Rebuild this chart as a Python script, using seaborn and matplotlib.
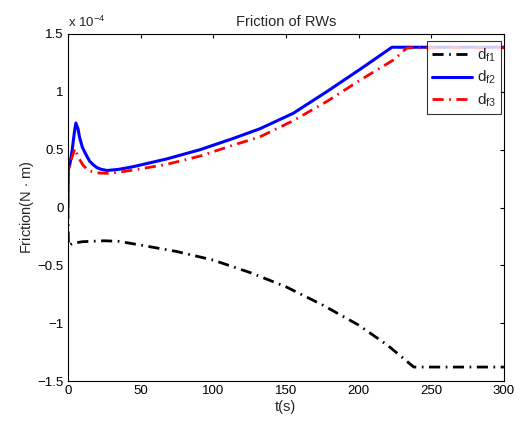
import matplotlib
matplotlib.use("Agg")
import matplotlib.pyplot as plt
import seaborn as sns
import pandas as pd

# values in units of 1e-4 N*m
t_f1 = [0, 0.4, 3, 10, 25, 35, 50, 75, 100, 125, 150, 175, 200, 220, 238, 300]
d_f1 = [0, -0.33, -0.31, -0.295, -0.287, -0.292, -0.324, -0.38, -0.454, -0.56,
        -0.684, -0.84, -1.015, -1.19, -1.378, -1.378]

t_f2 = [0, 0.3, 1.5, 3, 4.5, 5.5, 7, 8, 10, 12.8, 15, 17.4, 20, 23, 27, 35, 45,
        68, 91, 114, 132, 155, 178, 201, 223, 300]
d_f2 = [0, 0.33, 0.38, 0.50, 0.65, 0.73, 0.68, 0.61, 0.52, 0.45, 0.40, 0.37,
        0.345, 0.33, 0.32, 0.33, 0.353, 0.42, 0.50, 0.598, 0.68, 0.814, 1.0,
        1.194, 1.385, 1.385]

t_f3 = [0, 0.3, 2, 4.8, 7, 10.2, 14, 19.7, 26.6, 35, 45, 68, 91, 114, 132, 155,
        178, 201, 224, 233, 235, 300]
d_f3 = [0, 0.28, 0.40, 0.51, 0.44, 0.37, 0.32, 0.30, 0.295, 0.305, 0.324,
        0.373, 0.445, 0.54, 0.61, 0.75, 0.915, 1.10, 1.275, 1.376, 1.38, 1.38]

labels = [r"d$_{\mathrm{f1}}$", r"d$_{\mathrm{f2}}$", r"d$_{\mathrm{f3}}$"]
xticks = [0, 50, 100, 150, 200, 250, 300]
yticks = [-1.5, -1, -0.5, 0, 0.5, 1, 1.5]
ytick_labels = ["\u22121.5", "\u22121", "\u22120.5", "0", "0.5", "1", "1.5"]

sns.set_style("white")
plt.rcParams['font.family'] = ['Liberation Sans', 'DejaVu Sans']
plt.rcParams['mathtext.fontset'] = 'custom'
plt.rcParams['mathtext.rm'] = 'Liberation Sans'
plt.rcParams['mathtext.it'] = 'Liberation Sans'

fig = plt.figure(figsize=(5.26, 4.24), dpi=100)
ax = fig.add_axes([0.129, 0.101, 0.829, 0.819])

df1 = pd.DataFrame({"t": t_f1, "v": d_f1})
df2 = pd.DataFrame({"t": t_f2, "v": d_f2})
df3 = pd.DataFrame({"t": t_f3, "v": d_f3})

sns.lineplot(data=df1, x="t", y="v", ax=ax, color="black", lw=2,
             linestyle=(0, (4, 2, 0.6, 2)), label=labels[0], sort=False)
sns.lineplot(data=df2, x="t", y="v", ax=ax, color="#0000ff", lw=2.2,
             label=labels[1], sort=False)
sns.lineplot(data=df3, x="t", y="v", ax=ax, color="#ff0000", lw=2,
             linestyle=(0, (4, 2, 0.6, 2)), label=labels[2], sort=False)

ax.set_xlim(0, 300)
ax.set_ylim(-1.5, 1.5)
ax.set_xticks(xticks)
ax.set_yticks(yticks)
ax.set_yticklabels(ytick_labels)
ax.tick_params(direction="in", length=3, width=0.8, labelsize=9.5,
               top=True, right=True, colors="black", pad=3)
for s in ax.spines.values():
    s.set_color("black")
    s.set_linewidth(0.8)

ax.set_xlabel("t(s)", fontsize=10.5, labelpad=2)
ax.set_ylabel(r"Friction(N $\cdot$ m)", fontsize=10.5, labelpad=1)
ax.set_title("Friction of RWs", fontsize=10.5, pad=6)
ax.text(0.0, 1.012, r"x 10$^{-4}$", transform=ax.transAxes, fontsize=9.5,
        ha="left", va="bottom")

leg = ax.legend(loc="upper right", bbox_to_anchor=(0.993, 0.98),
                borderaxespad=0, fontsize=11, frameon=True, fancybox=False,
                edgecolor="black", handlelength=2.6, labelspacing=0.35,
                handletextpad=0.3, borderpad=0.35)
leg.get_frame().set_linewidth(0.8)

fig.savefig("out.png", dpi=100)
